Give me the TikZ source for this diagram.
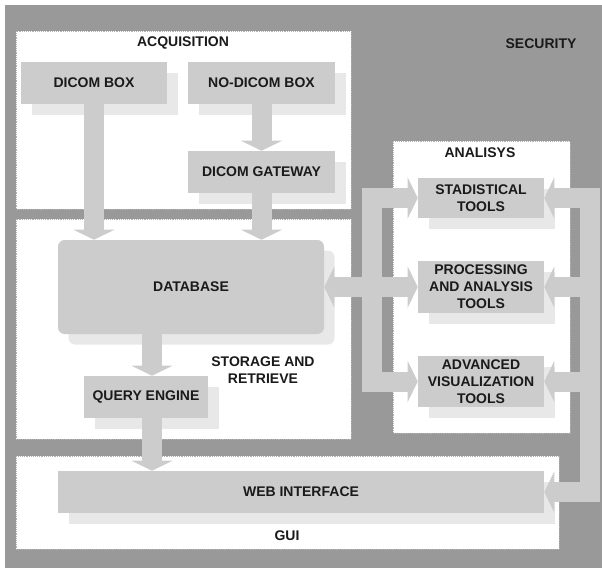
\documentclass[tikz,border=0pt]{standalone}
\usepackage{fontspec}
\setmainfont{Liberation Sans}
\usetikzlibrary{arrows.meta,shadows,calc}
\definecolor{bgc}{HTML}{999999}
\definecolor{boxc}{HTML}{CCCCCC}
\definecolor{shc}{HTML}{E8E8E8}
\definecolor{txt}{HTML}{1A1A1A}
\tikzset{tipx/.tip={Triangle[length=7.5pt, width=30.75pt, line width=0pt]}}
\begin{document}
\begin{tikzpicture}[x=0.75pt,y=-0.75pt,
  every node/.style={font=\fontsize{10.5}{12.75}\selectfont\bfseries, text=txt, inner sep=0pt, align=center},
  area/.style={fill=white, draw=black!30, densely dotted, line width=0.4pt},
  box/.style={fill=boxc, drop shadow={shadow xshift=7.875pt, shadow yshift=-7.875pt, fill=shc, opacity=1}},
  bus/.style={draw=boxc, line width=15pt, line join=miter, line cap=butt},
]
\useasboundingbox (0,0) rectangle (602,568);
\fill[bgc] (5,5) rectangle (602,568);
% areas
\draw[area] (16,31) rectangle (351,209);
\draw[area] (16,219) rectangle (351,439);
\draw[area] (16,456) rectangle (559,549);
\draw[area] (393,141) rectangle (570,433);
% area labels
\node (lacq) at (183,43) {ACQUISITION};
\node (lsec) at (541,44) {SECURITY};
\node (lana) at (480,153) {ANALISYS};
\node (lsto) at (263,370.5) {STORAGE AND\\RETRIEVE};
\node (lgui) at (287,536) {GUI};
% boxes
\node[box, minimum width=109.5pt, minimum height=31.5pt] (dicom) at (94,83) {DICOM BOX};
\node[box, minimum width=110.25pt, minimum height=31.5pt] (nodicom) at (261.5,83) {NO-DICOM BOX};
\node[box, minimum width=110.25pt, minimum height=31.5pt] (gateway) at (261.5,172) {DICOM GATEWAY};
\node[box, rounded corners=5pt, minimum width=199.5pt, minimum height=70.5pt] (db) at (191,287) {DATABASE};
\node[box, minimum width=93pt, minimum height=31.5pt] (query) at (146,397) {QUERY ENGINE};
\node[box, minimum width=364.5pt, minimum height=31.5pt] (web) at (301,492) {WEB INTERFACE};
\node[box, minimum width=94.5pt, minimum height=30pt] (stad) at (481,198) {STADISTICAL\\TOOLS};
\node[box, minimum width=94.5pt, minimum height=39pt] (proc) at (481,287) {PROCESSING\\AND ANALYSIS\\TOOLS};
\node[box, minimum width=94.5pt, minimum height=38.25pt] (adv) at (481,381.5) {ADVANCED\\VISUALIZATION\\TOOLS};
% connectors
\coordinate (qa) at (152,0);
\coordinate (lb) at (372,287);
\coordinate (rb) at (590,287);
\draw[bus,-tipx] (dicom.south) -- (dicom.south |- db.north);
\draw[bus,-tipx] (nodicom.south) -- (gateway.north);
\draw[bus,-tipx] (gateway.south) -- (gateway.south |- db.north);
\draw[bus,-tipx] (qa |- db.south) -- (qa |- query.north);
\draw[bus,-tipx] (qa |- query.south) -- (qa |- web.north);
\draw[bus,tipx-tipx] (stad.west) -| (lb) |- (adv.west);
\draw[bus,tipx-tipx] (db.east) -- (proc.west);
\draw[bus,tipx-tipx] (stad.east) -| (rb) |- (web.east);
\draw[bus,-tipx] (rb |- proc.east) -- (proc.east);
\draw[bus,-tipx] (rb |- adv.east) -- (adv.east);
\end{tikzpicture}
\end{document}
